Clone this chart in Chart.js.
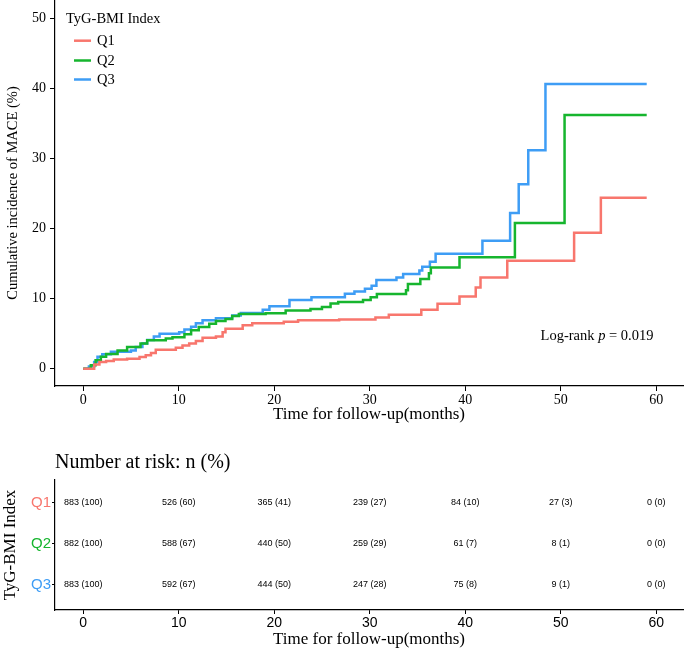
<!DOCTYPE html>
<html>
<head>
<meta charset="utf-8">
<script src="https://cdn.jsdelivr.net/npm/chart.js@4.4.1/dist/chart.umd.min.js"></script>
<style>
  body { margin: 0; background: #fff; }
  #wrap { position: relative; width: 685px; height: 650px; }
  #kmChart { position: absolute; left: 0; top: 0; }
  #riskChart { position: absolute; left: 0; top: 430px; }
</style>
</head>
<body>
<div id="wrap">
  <canvas id="kmChart" width="685" height="430"></canvas>
  <canvas id="riskChart" width="685" height="220"></canvas>
</div>
<script>
// groups
const groups = ['Q1', 'Q2', 'Q3'];
const groupColors = ['#F8766D', '#16B52E', '#3E9DF5'];

// cumulative incidence (%) step points: time (months) / value
const q1Time = [0, 1.15, 1.7, 2.4, 3.2, 4.6, 5.9, 6.55, 7.1, 7.6, 9.7, 10.4, 11.1, 11.8, 12.5, 13.9, 14.6, 14.9, 16.7, 17.7, 21.0, 22.5, 26.8, 30.6, 32.0, 35.4, 37.1, 39.4, 41.1, 41.6, 44.4, 51.4, 54.2, 59.0];
const q1Inc  = [0, 0.6, 0.95, 1.1, 1.3, 1.4, 1.65, 1.9, 2.25, 2.7, 3.0, 3.3, 3.6, 3.95, 4.4, 4.6, 5.2, 5.7, 6.2, 6.5, 6.7, 6.9, 7.0, 7.3, 7.7, 8.4, 9.25, 10.3, 11.6, 13.0, 15.4, 19.4, 24.4, 24.4];

const q2Time = [0, 0.8, 1.3, 1.85, 2.4, 3.6, 4.6, 6.0, 6.7, 8.65, 9.35, 10.6, 11.3, 12.1, 13.2, 13.9, 14.9, 15.6, 16.3, 19.1, 21.2, 23.8, 25.0, 25.9, 26.7, 29.3, 30.1, 30.75, 33.8, 34.0, 35.3, 36.2, 36.4, 39.4, 45.2, 50.4, 59.0];
const q2Inc  = [0, 0.5, 1.2, 1.7, 2.1, 2.6, 3.1, 3.6, 4.05, 4.3, 4.5, 4.9, 5.5, 5.95, 6.4, 6.8, 7.1, 7.5, 7.8, 7.9, 8.3, 8.5, 8.8, 9.3, 9.5, 9.8, 10.2, 10.65, 11.2, 12.1, 12.8, 13.6, 14.45, 15.9, 20.8, 36.2, 36.2];

const q3Time = [0, 0.6, 1.15, 1.5, 2.0, 2.9, 5.0, 5.5, 6.2, 6.7, 7.4, 8.0, 10.05, 10.6, 11.3, 11.8, 12.5, 13.9, 15.6, 16.5, 18.8, 19.5, 21.6, 23.9, 27.4, 28.4, 29.5, 30.2, 30.7, 32.8, 33.5, 35.2, 35.5, 36.3, 36.9, 41.8, 44.7, 45.6, 46.6, 48.4, 59.0];
const q3Inc  = [0, 0.3, 0.95, 1.7, 2.05, 2.4, 2.6, 3.1, 3.6, 4.1, 4.6, 5.0, 5.2, 5.6, 6.0, 6.5, 6.9, 7.2, 7.6, 7.95, 8.4, 8.9, 9.8, 10.2, 10.7, 11.0, 11.4, 11.85, 12.65, 13.0, 13.5, 14.0, 14.55, 15.25, 16.4, 18.25, 22.2, 26.3, 31.15, 40.6, 40.6];

// axis ticks
const xTicks = [0, 10, 20, 30, 40, 50, 60];
const yTicks = [0, 10, 20, 30, 40, 50];

// number at risk table
const riskTimes = [0, 10, 20, 30, 40, 50, 60];
const q1RiskN   = [883, 526, 365, 239, 84, 27, 0];
const q1RiskPct = [100, 60, 41, 27, 10, 3, 0];
const q2RiskN   = [882, 588, 440, 259, 61, 8, 0];
const q2RiskPct = [100, 67, 50, 29, 7, 1, 0];
const q3RiskN   = [883, 592, 444, 247, 75, 9, 0];
const q3RiskPct = [100, 67, 50, 28, 8, 1, 0];

const logRankText = ['Log-rank ', 'p', ' = 0.019'];

Chart.defaults.font.family = "'Liberation Serif', 'Times New Roman', serif";
Chart.defaults.color = '#000';

const toPoints = (t, v) => t.map((x, i) => ({ x: x, y: v[i] }));

const seriesTime = [q1Time, q2Time, q3Time];
const seriesInc = [q1Inc, q2Inc, q3Inc];

const axisLine = { display: true, color: '#000', width: 1.2 };

// no extra room for overflowing tick labels
const noPad = s => { s.paddingTop = 0; s.paddingBottom = 0; s.paddingLeft = 0; s.paddingRight = 0; };

// legend + log-rank text inside the plot
const kmOverlay = {
  id: 'kmOverlay',
  afterDatasetsDraw(chart) {
    const c = chart.ctx;
    c.save();
    c.fillStyle = '#000';
    c.font = "14.5px 'Liberation Serif'";
    c.textAlign = 'left';
    c.textBaseline = 'alphabetic';
    c.fillText('TyG-BMI Index', 66, 23);
    const rows = [40.7, 60.5, 79.5];
    groups.forEach((g, i) => {
      c.strokeStyle = groupColors[i];
      c.lineWidth = 2.5;
      c.beginPath();
      c.moveTo(74, rows[i]);
      c.lineTo(91, rows[i]);
      c.stroke();
      c.fillStyle = '#000';
      c.textBaseline = 'middle';
      c.fillText(g, 97, rows[i] + 0.5);
    });

    // log-rank p
    const xs = chart.scales.x, ys = chart.scales.y;
    const cx = xs.getPixelForValue(53.8);
    const cy = ys.getPixelForValue(4.7);
    const fN = "14.5px 'Liberation Serif'";
    const fI = "italic 14.5px 'Liberation Serif'";
    c.font = fN;
    const w0 = c.measureText(logRankText[0]).width;
    const w2 = c.measureText(logRankText[2]).width;
    c.font = fI;
    const w1 = c.measureText(logRankText[1]).width;
    let x0 = cx - (w0 + w1 + w2) / 2;
    c.textBaseline = 'middle';
    c.font = fN; c.fillText(logRankText[0], x0, cy);
    c.font = fI; c.fillText(logRankText[1], x0 + w0, cy);
    c.font = fN; c.fillText(logRankText[2], x0 + w0 + w1, cy);
    c.restore();
  }
};

new Chart(document.getElementById('kmChart'), {
  type: 'line',
  data: {
    datasets: groups.map((g, i) => ({
      label: g,
      data: toPoints(seriesTime[i], seriesInc[i]),
      borderColor: groupColors[i],
      backgroundColor: groupColors[i],
      borderWidth: 2.5,
      pointRadius: 0,
      stepped: true,
      fill: false
    }))
  },
  options: {
    responsive: false,
    animation: false,
    layout: { padding: { left: 0, right: 2, top: 0, bottom: 0 } },
    plugins: { legend: { display: false }, tooltip: { enabled: false } },
    scales: {
      x: {
        type: 'linear',
        min: -2.95,
        max: 62.8,
        afterBuildTicks: s => { s.ticks = xTicks.map(v => ({ value: v })); },
        afterFit: s => { s.height = 44; noPad(s); },
        ticks: { font: { size: 14 }, padding: 1, color: '#000' },
        grid: { drawOnChartArea: false, color: '#000', tickLength: 5 },
        border: axisLine,
        title: { display: true, text: 'Time for follow-up(months)', font: { size: 17 }, padding: { top: 0, bottom: 5 } }
      },
      y: {
        type: 'linear',
        min: -2.47,
        max: 52.6,
        afterBuildTicks: s => { s.ticks = yTicks.map(v => ({ value: v })); },
        afterFit: s => { s.width = 55; noPad(s); },
        ticks: { font: { size: 14 }, padding: 4, color: '#000' },
        grid: { drawOnChartArea: false, color: '#000', tickLength: 5 },
        border: axisLine,
        title: { display: true, text: 'Cumulative incidence of MACE (%)', font: { size: 14.5 }, padding: { top: 4, bottom: 0 } }
      }
    }
  },
  plugins: [kmOverlay]
});

// risk table
const riskN = [q1RiskN, q2RiskN, q3RiskN];
const riskPct = [q1RiskPct, q2RiskPct, q3RiskPct];

const riskTable = {
  id: 'riskTable',
  afterDatasetsDraw(chart) {
    const c = chart.ctx;
    const xs = chart.scales.x, ys = chart.scales.y;
    c.save();
    c.fillStyle = '#000';
    c.font = "20px 'Liberation Serif'";
    c.textAlign = 'left';
    c.textBaseline = 'middle';
    c.fillText('Number at risk: n (%)', 55, 33);

    c.font = "9px 'Liberation Sans'";
    c.textAlign = 'center';
    groups.forEach((g, r) => {
      riskTimes.forEach((t, i) => {
        c.fillText(`${riskN[r][i]} (${riskPct[r][i]})`, xs.getPixelForValue(t), ys.getPixelForValue(r + 1));
      });
    });
    c.restore();
  }
};

new Chart(document.getElementById('riskChart'), {
  type: 'scatter',
  data: { datasets: [] },
  options: {
    responsive: false,
    animation: false,
    layout: { padding: { left: 0, right: 2, top: 50, bottom: 0 } },
    plugins: { legend: { display: false }, tooltip: { enabled: false } },
    scales: {
      x: {
        type: 'linear',
        min: -2.95,
        max: 62.8,
        afterBuildTicks: s => { s.ticks = riskTimes.map(v => ({ value: v })); },
        afterFit: s => { s.height = 40; noPad(s); },
        ticks: { font: { family: "'Liberation Sans'", size: 14 }, padding: 1, color: '#000' },
        grid: { drawOnChartArea: false, color: '#000', tickLength: 4 },
        border: axisLine,
        title: { display: true, text: 'Time for follow-up(months)', font: { size: 17 }, padding: { top: 0, bottom: 0 } }
      },
      y: {
        type: 'linear',
        reverse: true,
        min: 0.44,
        max: 3.61,
        afterBuildTicks: s => { s.ticks = groups.map((g, i) => ({ value: i + 1 })); },
        afterFit: s => { s.width = 55; noPad(s); },
        ticks: {
          font: { family: "'Liberation Sans'", size: 15 },
          padding: 1,
          color: ctx => groupColors[ctx.index],
          callback: (v, i) => groups[i]
        },
        grid: { drawOnChartArea: false, color: '#000', tickLength: 3 },
        border: axisLine,
        title: { display: true, text: 'TyG-BMI Index', font: { size: 17 }, padding: { top: 0, bottom: 0 } }
      }
    }
  },
  plugins: [riskTable]
});
</script>
</body>
</html>
